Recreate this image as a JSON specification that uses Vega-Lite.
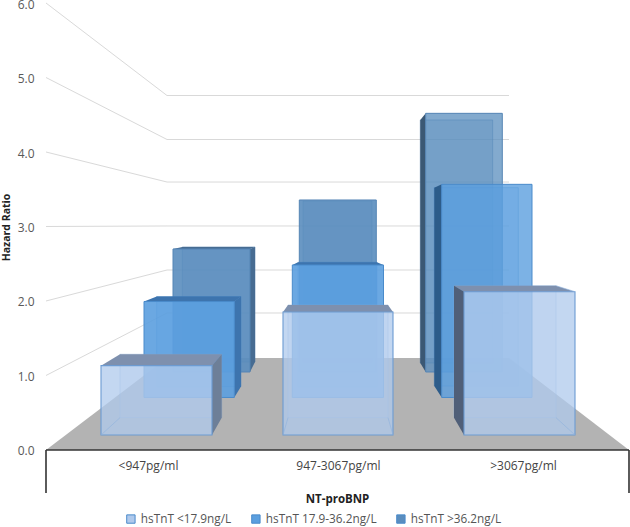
{
"$schema":"https://vega.github.io/schema/vega-lite/v6.json",
"width":630,"height":527,"padding":0,"autosize":{"type":"none"},"background":"white",
"config":{"view":{"stroke":null},"font":"Open Sans"},
"datasets":{
"fronts":[
{"category":"<947pg/ml","series":"hsTnT >36.2ng/L","x0":1.73,"x1":2.50,"top":2.698,"base":1.047},
{"category":"947-3067pg/ml","series":"hsTnT >36.2ng/L","x0":2.993,"x1":3.763,"top":3.356,"base":1.047},
{"category":">3067pg/ml","series":"hsTnT >36.2ng/L","x0":4.257,"x1":5.023,"top":4.519,"base":1.047},
{"category":"<947pg/ml","series":"hsTnT 17.9-36.2ng/L","x0":1.44,"x1":2.343,"top":1.993,"base":0.705},
{"category":"947-3067pg/ml","series":"hsTnT 17.9-36.2ng/L","x0":2.923,"x1":3.835,"top":2.483,"base":0.705},
{"category":">3067pg/ml","series":"hsTnT 17.9-36.2ng/L","x0":4.417,"x1":5.32,"top":3.566,"base":0.705},
{"category":"<947pg/ml","series":"hsTnT <17.9ng/L","x0":1.01,"x1":2.12,"top":1.132,"base":0.201},
{"category":"947-3067pg/ml","series":"hsTnT <17.9ng/L","x0":2.83,"x1":3.93,"top":1.852,"base":0.201},
{"category":">3067pg/ml","series":"hsTnT <17.9ng/L","x0":4.64,"x1":5.75,"top":2.125,"base":0.201}
],
"backs":[
{"category":"<947pg/ml","series":"s3","x0":1.823,"x1":2.55,"top":2.725,"base":1.181},
{"category":"947-3067pg/ml","series":"s3","x0":3.03,"x1":3.72,"top":3.342,"base":1.181},
{"category":">3067pg/ml","series":"s3","x0":4.203,"x1":4.927,"top":4.43,"base":1.168},
{"category":"<947pg/ml","series":"s2","x0":1.567,"x1":2.41,"top":2.06,"base":0.852},
{"category":"947-3067pg/ml","series":"s2","x0":2.98,"x1":3.77,"top":2.519,"base":0.852},
{"category":">3067pg/ml","series":"s2","x0":4.343,"x1":5.183,"top":3.521,"base":0.859},
{"category":"<947pg/ml","series":"s1","x0":1.20,"x1":2.217,"top":1.285,"base":0.434},
{"category":"947-3067pg/ml","series":"s1","x0":2.88,"x1":3.88,"top":1.946,"base":0.434},
{"category":">3067pg/ml","series":"s1","x0":4.54,"x1":5.56,"top":2.205,"base":0.434}
],
"faces":[
{"shape":"s3c1side","series":"s3","category":"<947pg/ml","face":"side","x":2.50,"y":2.698,"y2":1.047},
{"shape":"s3c1side","series":"s3","category":"<947pg/ml","face":"side","x":2.55,"y":2.725,"y2":1.181},
{"shape":"s3c3side","series":"s3","category":">3067pg/ml","face":"side","x":4.203,"y":4.43,"y2":1.168},
{"shape":"s3c3side","series":"s3","category":">3067pg/ml","face":"side","x":4.257,"y":4.519,"y2":1.047},
{"shape":"s3c1top","series":"s3","category":"<947pg/ml","face":"top","x":1.73,"y":2.698,"y2":2.698},
{"shape":"s3c1top","series":"s3","category":"<947pg/ml","face":"top","x":1.823,"y":2.725,"y2":2.698},
{"shape":"s3c1top","series":"s3","category":"<947pg/ml","face":"top","x":2.50,"y":2.725,"y2":2.698},
{"shape":"s3c1top","series":"s3","category":"<947pg/ml","face":"top","x":2.55,"y":2.725,"y2":2.725},
{"shape":"s2c1side","series":"s2","category":"<947pg/ml","face":"side","x":2.343,"y":1.993,"y2":0.705},
{"shape":"s2c1side","series":"s2","category":"<947pg/ml","face":"side","x":2.41,"y":2.06,"y2":0.852},
{"shape":"s2c3side","series":"s2","category":">3067pg/ml","face":"side","x":4.343,"y":3.521,"y2":0.859},
{"shape":"s2c3side","series":"s2","category":">3067pg/ml","face":"side","x":4.417,"y":3.566,"y2":0.705},
{"shape":"s2c1top","series":"s2","category":"<947pg/ml","face":"top","x":1.44,"y":1.993,"y2":1.993},
{"shape":"s2c1top","series":"s2","category":"<947pg/ml","face":"top","x":1.567,"y":2.06,"y2":1.993},
{"shape":"s2c1top","series":"s2","category":"<947pg/ml","face":"top","x":2.343,"y":2.06,"y2":1.993},
{"shape":"s2c1top","series":"s2","category":"<947pg/ml","face":"top","x":2.41,"y":2.06,"y2":2.06},
{"shape":"s2c2top","series":"s2","category":"947-3067pg/ml","face":"top","x":2.923,"y":2.483,"y2":2.483},
{"shape":"s2c2top","series":"s2","category":"947-3067pg/ml","face":"top","x":2.98,"y":2.519,"y2":2.483},
{"shape":"s2c2top","series":"s2","category":"947-3067pg/ml","face":"top","x":3.77,"y":2.519,"y2":2.483},
{"shape":"s2c2top","series":"s2","category":"947-3067pg/ml","face":"top","x":3.835,"y":2.483,"y2":2.483},
{"shape":"s1c1side","series":"s1","category":"<947pg/ml","face":"side","x":2.12,"y":1.132,"y2":0.201},
{"shape":"s1c1side","series":"s1","category":"<947pg/ml","face":"side","x":2.217,"y":1.285,"y2":0.434},
{"shape":"s1c3side","series":"s1","category":">3067pg/ml","face":"side","x":4.54,"y":2.205,"y2":0.434},
{"shape":"s1c3side","series":"s1","category":">3067pg/ml","face":"side","x":4.64,"y":2.125,"y2":0.201},
{"shape":"s1c1top","series":"s1","category":"<947pg/ml","face":"top","x":1.01,"y":1.132,"y2":1.132},
{"shape":"s1c1top","series":"s1","category":"<947pg/ml","face":"top","x":1.20,"y":1.285,"y2":1.132},
{"shape":"s1c1top","series":"s1","category":"<947pg/ml","face":"top","x":2.12,"y":1.285,"y2":1.132},
{"shape":"s1c1top","series":"s1","category":"<947pg/ml","face":"top","x":2.217,"y":1.285,"y2":1.285},
{"shape":"s1c2top","series":"s1","category":"947-3067pg/ml","face":"top","x":2.83,"y":1.852,"y2":1.852},
{"shape":"s1c2top","series":"s1","category":"947-3067pg/ml","face":"top","x":2.88,"y":1.946,"y2":1.852},
{"shape":"s1c2top","series":"s1","category":"947-3067pg/ml","face":"top","x":3.88,"y":1.946,"y2":1.852},
{"shape":"s1c2top","series":"s1","category":"947-3067pg/ml","face":"top","x":3.93,"y":1.852,"y2":1.852},
{"shape":"s1c3top","series":"s1","category":">3067pg/ml","face":"top","x":4.54,"y":2.205,"y2":2.205},
{"shape":"s1c3top","series":"s1","category":">3067pg/ml","face":"top","x":4.64,"y":2.205,"y2":2.125},
{"shape":"s1c3top","series":"s1","category":">3067pg/ml","face":"top","x":5.56,"y":2.205,"y2":2.125},
{"shape":"s1c3top","series":"s1","category":">3067pg/ml","face":"top","x":5.75,"y":2.125,"y2":2.125}
],
"edges":[
{"shape":"e1","x":1.01,"y":0.201},{"shape":"e1","x":1.20,"y":0.434},
{"shape":"e2","x":2.83,"y":0.201},{"shape":"e2","x":2.88,"y":0.434},
{"shape":"e3","x":3.93,"y":0.201},{"shape":"e3","x":3.88,"y":0.434},
{"shape":"e4","x":5.75,"y":0.201},{"shape":"e4","x":5.56,"y":0.434},
{"shape":"e5","x":5.75,"y":2.125},{"shape":"e5","x":5.56,"y":2.205}
],
"grid":[
{"level":1,"x":0.46,"y":1},{"level":1,"x":1.67,"y":1.839},{"level":1,"x":5.09,"y":1.839},
{"level":2,"x":0.46,"y":2},{"level":2,"x":1.67,"y":2.416},{"level":2,"x":5.09,"y":2.416},
{"level":3,"x":0.46,"y":3},{"level":3,"x":1.67,"y":3.007},{"level":3,"x":5.09,"y":3.007},
{"level":4,"x":0.46,"y":4},{"level":4,"x":1.67,"y":3.597},{"level":4,"x":5.09,"y":3.597},
{"level":5,"x":0.46,"y":5},{"level":5,"x":1.67,"y":4.168},{"level":5,"x":5.09,"y":4.168},
{"level":6,"x":0.46,"y":6},{"level":6,"x":1.67,"y":4.758},{"level":6,"x":5.09,"y":4.758}
],
"floor":[
{"x":0.46,"y":0,"y2":0},{"x":1.67,"y":1.235,"y2":0},{"x":5.09,"y":1.235,"y2":0},{"x":6.29,"y":0,"y2":0}
],
"frame":[
{"x":0.46,"x2":6.29,"y":0,"y2":0},
{"x":0.46,"x2":0.46,"y":0,"y2":-0.577},
{"x":6.29,"x2":6.29,"y":0,"y2":-0.577}
]
},
"encoding":{
"x":{"type":"quantitative","scale":{"domain":[0,6.3],"nice":false,"zero":false}},
"y":{"type":"quantitative","scale":{"domain":[-1.0336,6.0403],"nice":false,"zero":false}}
},
"layer":[
{"data":{"name":"floor"},"mark":{"type":"area","color":"#B3B3B3","opacity":1},
 "encoding":{"x":{"field":"x","type":"quantitative","title":null,
   "axis":{"orient":"bottom","offset":-67,"values":[1.48,3.38,5.23],"domain":false,"ticks":false,"grid":false,"labelPadding":0,"labelFont":"Open Sans","labelFontSize":12,"labelColor":"#444444","labelFlush":false,"labelOverlap":false,"labelExpr":"datum.value<2?'<947pg/ml':datum.value<4?'947-3067pg/ml':'>3067pg/ml'","title":"NT-proBNP","titleFont":"Open Sans","titleFontSize":11.5,"titleFontWeight":"bold","titleColor":"#222222","titleX":337,"titleY":33,"titleAnchor":"middle"}},
  "y":{"field":"y","type":"quantitative","title":null,
   "axis":{"orient":"left","offset":-38,"values":[0,1,2,3,4,5,6],"domain":false,"ticks":false,"grid":false,"labelPadding":4,"labelOffset":1,"labelFont":"Open Sans","labelFontSize":12,"labelColor":"#595959","format":".1f","labelFlush":false,"labelOverlap":false,"title":"Hazard Ratio","titleFont":"Open Sans","titleFontSize":10.5,"titleFontWeight":"bold","titleColor":"#222222","titleAngle":270,"titleX":-27,"titleY":227,"titleAnchor":"middle"}},
  "y2":{"field":"y2"}}},
{"data":{"name":"grid"},"mark":{"type":"line","color":"#D9D9D9","strokeWidth":1},
 "encoding":{"x":{"field":"x","type":"quantitative"},"y":{"field":"y","type":"quantitative"},"detail":{"field":"level"},"order":{"field":"x"}}},
{"data":{"name":"frame"},"mark":{"type":"rule","color":"#333333","strokeWidth":1.6},
 "encoding":{"x":{"field":"x","type":"quantitative"},"x2":{"field":"x2"},"y":{"field":"y","type":"quantitative"},"y2":{"field":"y2"}}},

{"data":{"name":"backs"},"transform":[{"filter":"datum.series=='s3'"}],"mark":{"type":"rect","fill":"#5A8CBE","fillOpacity":0.35,"stroke":"#3F72A6","strokeOpacity":0.5,"strokeWidth":1},
 "encoding":{"x":{"field":"x0","type":"quantitative"},"x2":{"field":"x1"},"y":{"field":"top","type":"quantitative"},"y2":{"field":"base"}}},
{"data":{"name":"faces"},"transform":[{"filter":"datum.series=='s3' && datum.category=='>3067pg/ml'"}],"mark":{"type":"area","color":"#3B5874","opacity":1},
 "encoding":{"x":{"field":"x","type":"quantitative"},"y":{"field":"y","type":"quantitative"},"y2":{"field":"y2"},"detail":{"field":"shape"}}},
{"data":{"name":"faces"},"transform":[{"filter":"datum.series=='s3' && datum.category!='>3067pg/ml'"}],"mark":{"type":"area","color":"#476C92","opacity":1},
 "encoding":{"x":{"field":"x","type":"quantitative"},"y":{"field":"y","type":"quantitative"},"y2":{"field":"y2"},"detail":{"field":"shape"}}},
{"data":{"name":"fronts"},"transform":[{"filter":"datum.series=='hsTnT >36.2ng/L'"}],"mark":{"type":"rect","strokeWidth":1,"stroke":"#5585B5"},
 "encoding":{"x":{"field":"x0","type":"quantitative"},"x2":{"field":"x1"},"y":{"field":"top","type":"quantitative"},"y2":{"field":"base"},
  "color":{"field":"series","type":"nominal","scale":{"domain":["hsTnT <17.9ng/L","hsTnT 17.9-36.2ng/L","hsTnT >36.2ng/L"],"range":["#AFC9EC","#5B9FDF","#5A8DBE"]},
   "legend":{"title":null,"orient":"none","legendX":125,"legendY":513,"direction":"horizontal","columns":3,"symbolType":"square","symbolSize":70,"symbolStrokeWidth":1,"symbolStrokeColor":"#5B8DC4","symbolOpacity":1,"labelFont":"Open Sans","labelFontSize":11.8,"labelColor":"#555555","columnPadding":17,"labelOffset":4,"gridAlign":"each"}},
  "fillOpacity":{"condition":{"test":"datum.category=='>3067pg/ml'","value":0.75},"value":0.9}}},

{"data":{"name":"backs"},"transform":[{"filter":"datum.series=='s2'"}],"mark":{"type":"rect","fill":"#5B9FDF","fillOpacity":0.25,"stroke":"#3F7FC0","strokeOpacity":0.45,"strokeWidth":1},
 "encoding":{"x":{"field":"x0","type":"quantitative"},"x2":{"field":"x1"},"y":{"field":"top","type":"quantitative"},"y2":{"field":"base"}}},
{"data":{"name":"faces"},"transform":[{"filter":"datum.series=='s2' && datum.category=='>3067pg/ml'"}],"mark":{"type":"area","color":"#2D5C8A","opacity":1},
 "encoding":{"x":{"field":"x","type":"quantitative"},"y":{"field":"y","type":"quantitative"},"y2":{"field":"y2"},"detail":{"field":"shape"}}},
{"data":{"name":"faces"},"transform":[{"filter":"datum.series=='s2' && datum.category!='>3067pg/ml'"}],"mark":{"type":"area","color":"#3D74AE","opacity":1},
 "encoding":{"x":{"field":"x","type":"quantitative"},"y":{"field":"y","type":"quantitative"},"y2":{"field":"y2"},"detail":{"field":"shape"}}},
{"data":{"name":"fronts"},"transform":[{"filter":"datum.series=='hsTnT 17.9-36.2ng/L'"}],"mark":{"type":"rect","strokeWidth":1,"stroke":"#4A8BCB"},
 "encoding":{"x":{"field":"x0","type":"quantitative"},"x2":{"field":"x1"},"y":{"field":"top","type":"quantitative"},"y2":{"field":"base"},
  "color":{"field":"series","type":"nominal"},
  "fillOpacity":{"condition":{"test":"datum.category=='>3067pg/ml'","value":0.8},"value":0.9}}},

{"data":{"name":"backs"},"transform":[{"filter":"datum.series=='s1'"}],"mark":{"type":"rect","fill":"#AFC9EC","fillOpacity":0.2,"stroke":"#7FA6D6","strokeOpacity":0.45,"strokeWidth":1},
 "encoding":{"x":{"field":"x0","type":"quantitative"},"x2":{"field":"x1"},"y":{"field":"top","type":"quantitative"},"y2":{"field":"base"}}},
{"data":{"name":"faces"},"transform":[{"filter":"datum.series=='s1' && datum.face=='top'"}],"mark":{"type":"area","color":"#7E90AE","opacity":1},
 "encoding":{"x":{"field":"x","type":"quantitative"},"y":{"field":"y","type":"quantitative"},"y2":{"field":"y2"},"detail":{"field":"shape"}}},
{"data":{"name":"faces"},"transform":[{"filter":"datum.series=='s1' && datum.face=='side' && datum.category=='>3067pg/ml'"}],"mark":{"type":"area","color":"#505F78","opacity":1},
 "encoding":{"x":{"field":"x","type":"quantitative"},"y":{"field":"y","type":"quantitative"},"y2":{"field":"y2"},"detail":{"field":"shape"}}},
{"data":{"name":"faces"},"transform":[{"filter":"datum.series=='s1' && datum.face=='side' && datum.category=='<947pg/ml'"}],"mark":{"type":"area","color":"#6D7F98","opacity":1},
 "encoding":{"x":{"field":"x","type":"quantitative"},"y":{"field":"y","type":"quantitative"},"y2":{"field":"y2"},"detail":{"field":"shape"}}},
{"data":{"name":"fronts"},"transform":[{"filter":"datum.series=='hsTnT <17.9ng/L'"}],"mark":{"type":"rect","strokeWidth":1.1,"stroke":"#6C9BD2"},
 "encoding":{"x":{"field":"x0","type":"quantitative"},"x2":{"field":"x1"},"y":{"field":"top","type":"quantitative"},"y2":{"field":"base"},
  "color":{"field":"series","type":"nominal"},
  "fillOpacity":{"value":0.75}}},
{"data":{"name":"edges"},"mark":{"type":"line","color":"#8FB2DE","strokeWidth":1,"opacity":0.6},
 "encoding":{"x":{"field":"x","type":"quantitative"},"y":{"field":"y","type":"quantitative"},"detail":{"field":"shape"},"order":{"field":"x"}}}
]
}
